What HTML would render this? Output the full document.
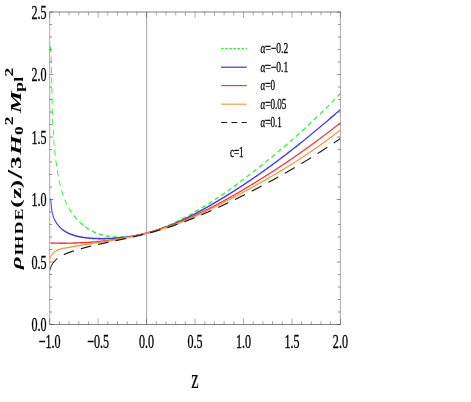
<!DOCTYPE html>
<html><head><meta charset="utf-8"><title>plot</title>
<style>html,body{margin:0;padding:0;background:#fff;}body{width:471px;height:402px;overflow:hidden;font-family:"Liberation Serif",serif;}svg{display:block;}</style></head>
<body>
<svg width="471" height="402" viewBox="0 0 471 402">
<rect width="471" height="402" fill="#fff"/>
<filter id="soft" x="0" y="0" width="100%" height="100%" filterUnits="userSpaceOnUse" color-interpolation-filters="sRGB"><feGaussianBlur stdDeviation="0.42"/></filter>
<filter id="soft2" x="0" y="0" width="100%" height="100%" filterUnits="userSpaceOnUse" color-interpolation-filters="sRGB"><feGaussianBlur stdDeviation="0.25"/></filter>
<line x1="146.60" y1="12.05" x2="146.60" y2="324.5" stroke="#8e8e8e" stroke-width="0.8"/>
<clipPath id="c"><rect x="49.7" y="12.05" width="290.70" height="312.45"/></clipPath>
<g filter="url(#soft2)"><g clip-path="url(#c)"><g transform="scale(0.62,1)" fill="none" stroke-linecap="butt" stroke-linejoin="round">
<path d="M81.42,46.25 L81.47,46.81 L81.52,47.36 L81.58,47.91 L81.63,48.46 L81.68,49.02 L81.73,49.57 L81.78,50.12 L81.83,50.68 L81.87,51.23 L81.92,51.78 L81.96,52.33 M82.29,56.62 L82.30,56.75 L82.34,57.30 L82.37,57.85 L82.41,58.40 L82.45,58.96 L82.48,59.51 L82.52,60.06 L82.55,60.61 L82.58,61.16 L82.62,61.71 L82.65,62.26 L82.68,62.71 M82.90,67.01 L82.91,67.22 L82.94,67.77 L82.97,68.32 L82.99,68.87 L83.02,69.42 L83.04,69.98 L83.07,70.53 L83.09,71.08 L83.11,71.63 L83.14,72.18 L83.16,72.73 L83.18,73.10 M83.34,77.40 L83.35,77.67 L83.37,78.22 L83.39,78.77 L83.41,79.32 L83.42,79.87 L83.44,80.42 L83.46,80.97 L83.48,81.52 L83.50,82.07 L83.51,82.62 L83.53,83.17 L83.54,83.50 M83.67,87.79 L83.68,88.11 L83.70,88.66 L83.72,89.21 L83.73,89.76 L83.75,90.30 L83.76,90.85 L83.78,91.40 L83.80,91.95 L83.81,92.50 L83.83,93.05 L83.85,93.59 L83.86,93.89 M83.99,98.19 L84.00,98.53 L84.02,99.08 L84.04,99.62 L84.05,100.17 L84.07,100.72 L84.09,101.27 L84.11,101.82 L84.13,102.36 L84.15,102.91 L84.17,103.46 L84.19,104.01 L84.20,104.29 M84.37,108.58 L84.38,108.94 L84.41,109.48 L84.43,110.03 L84.45,110.58 L84.48,111.13 L84.50,111.67 L84.53,112.22 L84.56,112.77 L84.58,113.32 L84.61,113.86 L84.64,114.41 L84.65,114.68 M84.89,118.97 L84.91,119.34 L84.94,119.88 L84.98,120.43 L85.01,120.98 L85.05,121.52 L85.08,122.07 L85.12,122.62 L85.16,123.16 L85.20,123.71 L85.24,124.26 L85.28,124.81 L85.30,125.06 M85.64,129.35 L85.67,129.73 L85.72,130.27 L85.77,130.82 L85.82,131.37 L85.87,131.92 L85.92,132.46 L85.97,133.01 L86.02,133.56 L86.08,134.10 L86.13,134.65 L86.19,135.20 L86.21,135.43 M86.69,139.71 L86.74,140.12 L86.81,140.66 L86.87,141.21 L86.94,141.76 L87.01,142.30 L87.08,142.85 L87.16,143.40 L87.23,143.95 L87.30,144.49 L87.38,145.04 L87.46,145.59 L87.48,145.76 M88.13,150.02 L88.20,150.51 L88.29,151.05 L88.38,151.60 L88.48,152.15 L88.57,152.70 L88.67,153.24 L88.76,153.79 L88.86,154.34 L88.96,154.88 L89.06,155.43 L89.16,155.98 L89.17,156.05 M90.01,160.28 L90.03,160.35 L90.14,160.90 L90.26,161.45 L90.38,161.99 L90.50,162.54 L90.62,163.09 L90.75,163.64 L90.87,164.18 L91.00,164.73 L91.12,165.28 L91.25,165.83 L91.36,166.25 M92.42,170.44 L92.50,170.75 L92.64,171.30 L92.79,171.85 L92.94,172.39 L93.10,172.94 L93.25,173.49 L93.41,174.04 L93.56,174.58 L93.72,175.13 L93.89,175.68 L94.05,176.22 L94.09,176.35 M95.42,180.48 L95.46,180.59 L95.65,181.13 L95.84,181.67 L96.03,182.22 L96.23,182.76 L96.43,183.30 L96.63,183.84 L96.84,184.38 L97.05,184.92 L97.26,185.46 L97.47,185.99 L97.58,186.25 M99.32,190.24 L99.33,190.26 L99.58,190.79 L99.84,191.32 L100.09,191.85 L100.36,192.37 L100.62,192.90 L100.89,193.42 L101.17,193.94 L101.45,194.46 L101.73,194.98 L102.02,195.50 L102.17,195.76 M104.45,199.52 L104.49,199.59 L104.82,200.10 L105.16,200.60 L105.50,201.10 L105.85,201.60 L106.20,202.10 L106.56,202.59 L106.92,203.09 L107.29,203.58 L107.67,204.07 L108.05,204.56 L108.11,204.63 M110.99,208.04 L111.31,208.39 L111.74,208.86 L112.18,209.32 L112.63,209.79 L113.08,210.25 L113.54,210.71 L114.01,211.17 L114.48,211.62 L114.96,212.08 L115.45,212.53 L115.48,212.55 M118.91,215.50 L119.05,215.61 L119.59,216.04 L120.14,216.47 L120.70,216.89 L121.26,217.31 L121.83,217.73 L122.41,218.14 L122.99,218.56 L123.59,218.96 L124.12,219.33 M127.99,221.78 L128.55,222.11 L129.19,222.49 L129.85,222.86 L130.51,223.24 L131.17,223.60 L131.84,223.96 L132.52,224.32 L133.20,224.68 L133.71,224.94 M137.89,226.93 L138.13,227.04 L138.86,227.36 L139.59,227.68 L140.32,227.99 L141.06,228.29 L141.80,228.60 L142.55,228.89 L143.31,229.19 L143.99,229.44 M148.39,230.99 L148.70,231.09 L149.49,231.34 L150.28,231.59 L151.08,231.83 L151.88,232.06 L152.68,232.29 L153.48,232.52 L154.29,232.73 L154.76,232.86 M159.32,233.94 L160.06,234.10 L160.89,234.27 L161.73,234.44 L162.57,234.60 L163.42,234.75 L164.27,234.90 L165.12,235.05 L165.87,235.17 M170.53,235.83 L171.13,235.90 L172.00,236.00 L172.87,236.10 L173.74,236.19 L174.62,236.28 L175.49,236.36 L176.37,236.44 L177.18,236.50 M181.88,236.81 L182.55,236.85 L183.44,236.89 L184.33,236.92 L185.22,236.96 L186.11,236.98 L187.00,237.01 L187.89,237.03 L188.57,237.04 M193.28,237.06 L194.15,237.06 L195.05,237.04 L195.94,237.03 L196.84,237.01 L197.73,236.99 L198.63,236.96 L199.52,236.94 L199.97,236.92 M204.68,236.71 L204.88,236.70 L205.77,236.65 L206.66,236.59 L207.55,236.54 L208.44,236.48 L209.32,236.42 L210.21,236.35 L211.09,236.28 L211.35,236.26 M216.05,235.86 L216.38,235.82 L217.25,235.74 L218.13,235.65 L219.00,235.56 L219.88,235.47 L220.75,235.37 L221.62,235.27 L222.49,235.17 L222.69,235.15 M227.37,234.56 L227.69,234.51 L228.56,234.39 L229.42,234.27 L230.28,234.15 L231.14,234.03 L232.00,233.90 L232.85,233.77 L233.71,233.64 L233.97,233.60 M238.61,232.83 L238.83,232.80 L239.68,232.65 L240.53,232.50 L241.37,232.35 L242.22,232.20 L243.07,232.04 L243.91,231.88 L244.75,231.72 L245.17,231.64 M249.78,230.72 L249.79,230.72 L250.63,230.55 L251.47,230.37 L252.30,230.19 L253.14,230.01 L253.97,229.83 L254.80,229.65 L255.63,229.46 L256.29,229.31 M260.86,228.25 L261.42,228.12 L262.24,227.92 L263.07,227.72 L263.89,227.51 L264.71,227.31 L265.53,227.10 L266.35,226.90 L267.16,226.69 L267.32,226.65 M271.85,225.46 L272.05,225.40 L272.86,225.18 L273.67,224.96 L274.48,224.74 L275.29,224.51 L276.10,224.29 L276.91,224.06 L277.71,223.83 L278.25,223.68 M282.74,222.37 L283.33,222.20 L284.13,221.96 L284.93,221.72 L285.73,221.48 L286.53,221.24 L287.32,220.99 L288.12,220.75 L288.91,220.50 L289.09,220.45 M293.55,219.04 L293.66,219.01 L294.45,218.75 L295.24,218.50 L296.02,218.24 L296.81,217.99 L297.60,217.73 L298.38,217.47 L299.16,217.21 L299.85,216.99 M304.27,215.50 L304.63,215.37 L305.41,215.11 L306.18,214.84 L306.96,214.58 L307.74,214.31 L308.51,214.04 L309.29,213.77 L310.06,213.50 L310.53,213.34 M314.92,211.78 L315.45,211.59 L316.22,211.31 L316.98,211.03 L317.75,210.76 L318.52,210.48 L319.28,210.20 L320.04,209.92 L320.81,209.64 L321.14,209.52 M325.50,207.90 L326.13,207.66 L326.89,207.38 L327.64,207.09 L328.40,206.80 L329.15,206.52 L329.91,206.23 L330.66,205.94 L331.42,205.65 L331.68,205.55 M336.02,203.86 L336.67,203.61 L337.42,203.31 L338.17,203.02 L338.92,202.72 L339.66,202.43 L340.41,202.13 L341.15,201.83 L341.90,201.53 L342.15,201.43 M346.46,199.69 L347.09,199.43 L347.83,199.13 L348.57,198.83 L349.31,198.52 L350.05,198.22 L350.78,197.91 L351.52,197.61 L352.26,197.30 L352.56,197.18 M356.85,195.38 L357.39,195.15 L358.12,194.84 L358.86,194.53 L359.59,194.22 L360.32,193.90 L361.04,193.59 L361.77,193.28 L362.50,192.97 L362.90,192.79 M367.16,190.94 L367.58,190.76 L368.31,190.44 L369.03,190.13 L369.75,189.81 L370.48,189.49 L371.20,189.17 L371.92,188.85 L372.64,188.53 L373.19,188.29 M377.42,186.39 L377.67,186.28 L378.39,185.96 L379.11,185.63 L379.82,185.31 L380.54,184.99 L381.25,184.66 L381.97,184.33 L382.68,184.01 L383.39,183.68 L383.41,183.68 M387.62,181.74 L387.67,181.72 L388.38,181.39 L389.09,181.06 L389.80,180.73 L390.50,180.40 L391.21,180.07 L391.92,179.74 L392.63,179.41 L393.34,179.08 L393.58,178.96 M397.77,176.99 L398.28,176.75 L398.98,176.41 L399.69,176.08 L400.39,175.74 L401.09,175.41 L401.79,175.07 L402.50,174.74 L403.20,174.40 L403.70,174.16 M407.87,172.15 L408.10,172.04 L408.80,171.70 L409.50,171.36 L410.20,171.02 L410.89,170.69 L411.59,170.35 L412.29,170.01 L412.98,169.67 L413.68,169.33 L413.77,169.28 M417.92,167.24 L418.55,166.94 L419.24,166.59 L419.93,166.25 L420.63,165.91 L421.32,165.57 L422.01,165.22 L422.70,164.88 L423.40,164.54 L423.80,164.33 M427.94,162.27 L428.23,162.12 L428.92,161.78 L429.61,161.43 L430.30,161.09 L430.99,160.74 L431.67,160.39 L432.36,160.05 L433.05,159.70 L433.74,159.35 L433.80,159.32 M437.92,157.23 L438.54,156.92 L439.22,156.57 L439.90,156.22 L440.59,155.87 L441.27,155.52 L441.95,155.17 L442.64,154.82 L443.32,154.47 L443.75,154.24 M447.85,152.12 L448.08,152.00 L448.76,151.65 L449.44,151.30 L450.12,150.95 L450.80,150.59 L451.48,150.24 L452.15,149.88 L452.83,149.53 L453.51,149.18 L453.66,149.10 M457.74,146.95 L458.23,146.69 L458.91,146.33 L459.58,145.97 L460.25,145.62 L460.93,145.26 L461.60,144.90 L462.27,144.54 L462.94,144.18 L463.52,143.87 M467.59,141.69 L467.63,141.67 L468.30,141.31 L468.97,140.95 L469.63,140.59 L470.30,140.23 L470.97,139.86 L471.63,139.50 L472.30,139.14 L472.97,138.78 L473.34,138.57 M477.38,136.36 L477.61,136.23 L478.27,135.87 L478.94,135.50 L479.60,135.14 L480.26,134.77 L480.92,134.41 L481.58,134.04 L482.24,133.67 L482.90,133.31 L483.10,133.19 M487.12,130.95 L487.50,130.73 L488.16,130.36 L488.81,129.99 L489.47,129.62 L490.12,129.25 L490.78,128.88 L491.43,128.51 L492.08,128.14 L492.74,127.77 L492.81,127.73 M496.80,125.45 L497.30,125.16 L497.94,124.79 L498.59,124.42 L499.24,124.04 L499.89,123.67 L500.54,123.29 L501.18,122.92 L501.83,122.54 L502.45,122.18 M506.42,119.86 L506.99,119.53 L507.63,119.15 L508.27,118.77 L508.91,118.39 L509.56,118.01 L510.20,117.63 L510.84,117.25 L511.48,116.87 L512.03,116.54 M515.98,114.18 L516.58,113.82 L517.21,113.43 L517.85,113.05 L518.48,112.67 L519.12,112.28 L519.75,111.90 L520.38,111.51 L521.01,111.13 L521.55,110.80 M525.46,108.40 L526.06,108.03 L526.69,107.65 L527.31,107.26 L527.94,106.87 L528.57,106.48 L529.19,106.09 L529.82,105.70 L530.44,105.31 L530.99,104.97 M534.87,102.53 L535.43,102.18 L536.05,101.78 L536.67,101.39 L537.29,101.00 L537.90,100.60 L538.52,100.21 L539.14,99.81 L539.76,99.42 L540.36,99.03 M544.21,96.55 L544.68,96.24 L545.29,95.84 L545.90,95.44 L546.51,95.04 L547.13,94.64 L547.74,94.24 L548.35,93.84 L548.96,93.44" stroke="#19ff19" stroke-width="1.4"/>
<path d="M81.62,198.60 L81.69,198.97 L81.76,199.34 L81.82,199.72 L81.88,200.09 L81.95,200.47 L82.01,200.85 L82.07,201.24 L82.12,201.62 L82.18,202.01 L82.24,202.40 L82.30,202.79 L82.35,203.18 L82.41,203.57 L82.47,203.96 L82.53,204.36 L82.59,204.75 L82.65,205.15 L82.71,205.55 L82.78,205.95 L82.85,206.35 L82.92,206.75 L82.99,207.15 L83.06,207.55 L83.14,207.95 L83.22,208.35 L83.31,208.75 L83.40,209.15 L83.49,209.55 L83.59,209.94 L83.69,210.34 L83.79,210.74 L83.90,211.14 L84.02,211.53 L84.13,211.93 L84.26,212.32 L84.39,212.72 L84.53,213.11 L84.67,213.50 L84.82,213.89 L84.97,214.27 L85.13,214.66 L85.30,215.04 L85.47,215.42 L85.65,215.80 L85.84,216.18 L86.04,216.55 L86.24,216.92 L86.45,217.29 L86.67,217.66 L86.90,218.02 L87.14,218.39 L87.38,218.74 L87.63,219.10 L87.89,219.45 L88.16,219.80 L88.44,220.15 L88.72,220.49 L89.01,220.84 L89.31,221.17 L89.62,221.51 L89.93,221.84 L90.25,222.17 L90.58,222.50 L90.91,222.82 L91.25,223.14 L91.60,223.45 L91.96,223.77 L92.32,224.08 L92.69,224.38 L93.07,224.69 L93.45,224.99 L93.84,225.29 L94.23,225.58 L94.64,225.87 L95.04,226.16 L95.46,226.44 L95.88,226.72 L96.31,227.00 L96.74,227.27 L97.18,227.54 L97.62,227.80 L98.07,228.07 L98.53,228.33 L98.99,228.58 L99.45,228.83 L99.93,229.08 L100.40,229.32 L100.89,229.56 L101.37,229.80 L101.87,230.03 L102.36,230.26 L102.87,230.49 L103.37,230.71 L103.89,230.93 L104.40,231.14 L104.93,231.35 L105.45,231.55 L105.98,231.76 L106.52,231.95 L107.06,232.15 L107.60,232.34 L108.15,232.52 L108.70,232.70 L109.26,232.88 L109.82,233.05 L110.38,233.23 L110.95,233.39 L111.52,233.55 L112.09,233.71 L112.67,233.87 L113.25,234.02 L113.84,234.17 L114.42,234.32 L115.02,234.46 L115.61,234.60 L116.21,234.73 L116.81,234.86 L117.41,234.99 L118.01,235.12 L118.62,235.24 L119.23,235.36 L119.84,235.48 L120.46,235.59 L121.07,235.70 L121.69,235.81 L122.31,235.92 L122.93,236.02 L123.56,236.12 L124.18,236.21 L124.81,236.31 L125.44,236.40 L126.07,236.49 L126.70,236.58 L127.34,236.66 L127.97,236.74 L128.61,236.82 L129.24,236.90 L129.88,236.97 L130.52,237.04 L131.16,237.11 L131.80,237.18 L132.44,237.25 L133.08,237.31 L133.72,237.37 L134.36,237.43 L135.01,237.49 L135.65,237.55 L136.29,237.60 L136.93,237.65 L137.57,237.70 L138.22,237.75 L138.86,237.80 L139.50,237.85 L140.14,237.89 L140.78,237.93 L141.42,237.97 L142.06,238.01 L142.69,238.05 L143.33,238.09 L143.97,238.12 L144.60,238.16 L145.24,238.19 L145.87,238.22 L146.50,238.25 L147.13,238.28 L147.76,238.31 L148.39,238.34 L149.02,238.36 L149.65,238.39 L150.28,238.41 L150.90,238.43 L151.53,238.46 L152.16,238.47 L152.78,238.49 L153.41,238.51 L154.03,238.53 L154.65,238.54 L155.28,238.56 L155.90,238.57 L156.52,238.58 L157.14,238.59 L157.76,238.60 L158.39,238.61 L159.01,238.62 L159.63,238.63 L160.25,238.64 L160.87,238.64 L161.49,238.64 L162.11,238.65 L162.73,238.65 L163.35,238.65 L163.97,238.65 L164.59,238.65 L165.21,238.65 L165.83,238.65 L166.45,238.65 L167.07,238.64 L167.69,238.64 L168.31,238.63 L168.93,238.63 L169.56,238.62 L170.18,238.61 L170.80,238.60 L171.42,238.59 L172.05,238.58 L172.67,238.57 L173.29,238.56 L173.92,238.55 L174.54,238.53 L175.17,238.52 L175.79,238.51 L176.42,238.49 L177.05,238.48 L177.67,238.46 L178.30,238.44 L178.93,238.42 L179.56,238.40 L180.19,238.39 L180.82,238.36 L181.45,238.34 L182.08,238.32 L182.71,238.30 L183.34,238.28 L183.97,238.25 L184.60,238.23 L185.23,238.20 L185.86,238.18 L186.50,238.15 L187.13,238.12 L187.76,238.09 L188.39,238.06 L189.03,238.03 L189.66,238.00 L190.29,237.97 L190.93,237.94 L191.56,237.90 L192.19,237.87 L192.83,237.83 L193.46,237.80 L194.10,237.76 L194.73,237.72 L195.36,237.69 L196.00,237.65 L196.63,237.61 L197.27,237.57 L197.90,237.52 L198.53,237.48 L199.17,237.44 L199.80,237.39 L200.44,237.35 L201.07,237.30 L201.70,237.26 L202.34,237.21 L202.97,237.16 L203.61,237.11 L204.24,237.06 L204.87,237.01 L205.50,236.96 L206.14,236.91 L206.77,236.85 L207.40,236.80 L208.03,236.74 L208.67,236.69 L209.30,236.63 L209.93,236.57 L210.56,236.51 L211.19,236.45 L211.82,236.39 L212.45,236.33 L213.08,236.27 L213.71,236.20 L214.34,236.14 L214.97,236.07 L215.60,236.01 L216.22,235.94 L216.85,235.87 L217.48,235.80 L218.10,235.73 L218.73,235.66 L219.36,235.59 L219.98,235.51 L220.60,235.44 L221.23,235.36 L221.85,235.29 L222.47,235.21 L223.10,235.13 L223.72,235.05 L224.34,234.97 L224.96,234.89 L225.58,234.81 L226.20,234.73 L226.82,234.65 L227.44,234.56 L228.06,234.48 L228.67,234.39 L229.29,234.30 L229.91,234.21 L230.52,234.12 L231.14,234.03 L231.76,233.94 L232.37,233.85 L232.98,233.76 L233.60,233.67 L234.21,233.57 L234.82,233.48 L235.44,233.38 L236.05,233.28 L236.66,233.19 L237.27,233.09 L237.88,232.99 L238.49,232.89 L239.10,232.79 L239.71,232.68 L240.32,232.58 L240.93,232.48 L241.53,232.37 L242.14,232.27 L242.75,232.16 L243.35,232.05 L243.96,231.94 L244.57,231.84 L245.17,231.73 L245.77,231.62 L246.38,231.50 L246.98,231.39 L247.59,231.28 L248.19,231.17 L248.79,231.05 L249.39,230.94 L249.99,230.82 L250.59,230.70 L251.19,230.58 L251.79,230.47 L252.39,230.35 L252.99,230.23 L253.59,230.11 L254.19,229.99 L254.79,229.86 L255.38,229.74 L255.98,229.62 L256.58,229.49 L257.17,229.37 L257.77,229.24 L258.36,229.11 L258.96,228.99 L259.55,228.86 L260.15,228.73 L260.74,228.60 L261.33,228.47 L261.93,228.34 L262.52,228.21 L263.11,228.07 L263.70,227.94 L264.29,227.81 L264.88,227.67 L265.47,227.54 L266.06,227.40 L266.65,227.26 L267.24,227.13 L267.83,226.99 L268.42,226.85 L269.00,226.71 L269.59,226.57 L270.18,226.43 L270.77,226.29 L271.35,226.14 L271.94,226.00 L272.52,225.86 L273.11,225.71 L273.69,225.57 L274.28,225.42 L274.86,225.28 L275.44,225.13 L276.03,224.98 L276.61,224.84 L277.19,224.69 L277.77,224.54 L278.35,224.39 L278.93,224.24 L279.52,224.09 L280.10,223.94 L280.68,223.78 L281.25,223.63 L281.83,223.48 L282.41,223.32 L282.99,223.17 L283.57,223.01 L284.15,222.86 L284.72,222.70 L285.30,222.55 L285.88,222.39 L286.45,222.23 L287.03,222.07 L287.61,221.91 L288.18,221.75 L288.76,221.59 L289.33,221.43 L289.90,221.27 L290.48,221.11 L291.05,220.95 L291.62,220.78 L292.20,220.62 L292.77,220.45 L293.34,220.29 L293.91,220.13 L294.48,219.96 L295.06,219.79 L295.63,219.63 L296.20,219.46 L296.77,219.29 L297.34,219.12 L297.91,218.96 L298.47,218.79 L299.04,218.62 L299.61,218.45 L300.18,218.28 L300.75,218.11 L301.31,217.93 L301.88,217.76 L302.45,217.59 L303.01,217.42 L303.58,217.24 L304.15,217.07 L304.71,216.89 L305.28,216.72 L305.84,216.54 L306.41,216.37 L306.97,216.19 L307.53,216.02 L308.10,215.84 L308.66,215.66 L309.22,215.48 L309.79,215.31 L310.35,215.13 L310.91,214.95 L311.47,214.77 L312.04,214.59 L312.60,214.41 L313.16,214.23 L313.72,214.05 L314.28,213.87 L314.84,213.68 L315.40,213.50 L315.96,213.32 L316.52,213.14 L317.08,212.95 L317.63,212.77 L318.19,212.59 L318.75,212.40 L319.31,212.22 L319.87,212.03 L320.42,211.85 L320.98,211.66 L321.54,211.47 L322.09,211.29 L322.65,211.10 L323.21,210.91 L323.76,210.73 L324.32,210.54 L324.87,210.35 L325.43,210.16 L325.98,209.97 L326.53,209.78 L327.09,209.59 L327.64,209.40 L328.20,209.21 L328.75,209.02 L329.30,208.83 L329.86,208.64 L330.41,208.45 L330.96,208.26 L331.51,208.07 L332.06,207.88 L332.62,207.68 L333.17,207.49 L333.72,207.30 L334.27,207.11 L334.82,206.91 L335.37,206.72 L335.92,206.53 L336.47,206.33 L337.02,206.14 L337.57,205.94 L338.12,205.75 L338.67,205.55 L339.21,205.36 L339.76,205.16 L340.31,204.97 L340.86,204.77 L341.41,204.57 L341.95,204.38 L342.50,204.18 L343.05,203.98 L343.60,203.79 L344.14,203.59 L344.69,203.39 L345.24,203.19 L345.78,203.00 L346.33,202.80 L346.87,202.60 L347.42,202.40 L347.96,202.20 L348.51,202.00 L349.05,201.80 L349.60,201.60 L350.14,201.40 L350.69,201.20 L351.23,201.00 L351.77,200.80 L352.32,200.60 L352.86,200.40 L353.40,200.20 L353.94,200.00 L354.49,199.80 L355.03,199.60 L355.57,199.39 L356.11,199.19 L356.65,198.99 L357.20,198.79 L357.74,198.58 L358.28,198.38 L358.82,198.18 L359.36,197.97 L359.90,197.77 L360.44,197.57 L360.98,197.36 L361.52,197.16 L362.06,196.95 L362.60,196.75 L363.14,196.54 L363.67,196.34 L364.21,196.13 L364.75,195.93 L365.29,195.72 L365.83,195.51 L366.36,195.31 L366.90,195.10 L367.44,194.90 L367.98,194.69 L368.51,194.48 L369.05,194.27 L369.59,194.07 L370.12,193.86 L370.66,193.65 L371.19,193.44 L371.73,193.23 L372.26,193.03 L372.80,192.82 L373.33,192.61 L373.87,192.40 L374.40,192.19 L374.94,191.98 L375.47,191.77 L376.01,191.56 L376.54,191.35 L377.07,191.14 L377.61,190.93 L378.14,190.72 L378.67,190.51 L379.20,190.30 L379.74,190.08 L380.27,189.87 L380.80,189.66 L381.33,189.45 L381.86,189.24 L382.39,189.02 L382.92,188.81 L383.46,188.60 L383.99,188.39 L384.52,188.17 L385.05,187.96 L385.58,187.75 L386.11,187.53 L386.64,187.32 L387.17,187.10 L387.69,186.89 L388.22,186.67 L388.75,186.46 L389.28,186.24 L389.81,186.03 L390.34,185.81 L390.87,185.60 L391.39,185.38 L391.92,185.17 L392.45,184.95 L392.98,184.73 L393.50,184.52 L394.03,184.30 L394.56,184.08 L395.08,183.87 L395.61,183.65 L396.13,183.43 L396.66,183.21 L397.18,183.00 L397.71,182.78 L398.23,182.56 L398.76,182.34 L399.28,182.12 L399.81,181.91 L400.33,181.69 L400.86,181.47 L401.38,181.25 L401.90,181.03 L402.43,180.81 L402.95,180.59 L403.47,180.37 L404.00,180.15 L404.52,179.93 L405.04,179.71 L405.56,179.49 L406.09,179.27 L406.61,179.04 L407.13,178.82 L407.65,178.60 L408.17,178.38 L408.69,178.16 L409.22,177.94 L409.74,177.71 L410.26,177.49 L410.78,177.27 L411.30,177.05 L411.82,176.82 L412.34,176.60 L412.86,176.38 L413.38,176.15 L413.89,175.93 L414.41,175.70 L414.93,175.48 L415.45,175.26 L415.97,175.03 L416.49,174.81 L417.00,174.58 L417.52,174.36 L418.04,174.13 L418.56,173.91 L419.07,173.68 L419.59,173.46 L420.11,173.23 L420.63,173.01 L421.14,172.78 L421.66,172.55 L422.17,172.33 L422.69,172.10 L423.21,171.87 L423.72,171.65 L424.24,171.42 L424.75,171.19 L425.27,170.96 L425.78,170.74 L426.30,170.51 L426.81,170.28 L427.32,170.05 L427.84,169.82 L428.35,169.60 L428.86,169.37 L429.38,169.14 L429.89,168.91 L430.40,168.68 L430.92,168.45 L431.43,168.22 L431.94,167.99 L432.45,167.76 L432.97,167.53 L433.48,167.30 L433.99,167.07 L434.50,166.84 L435.01,166.61 L435.52,166.38 L436.03,166.15 L436.55,165.92 L437.06,165.69 L437.57,165.46 L438.08,165.22 L438.59,164.99 L439.10,164.76 L439.61,164.53 L440.12,164.30 L440.62,164.06 L441.13,163.83 L441.64,163.60 L442.15,163.37 L442.66,163.13 L443.17,162.90 L443.68,162.67 L444.18,162.43 L444.69,162.20 L445.20,161.97 L445.71,161.73 L446.21,161.50 L446.72,161.26 L447.23,161.03 L447.74,160.80 L448.24,160.56 L448.75,160.33 L449.25,160.09 L449.76,159.86 L450.27,159.62 L450.77,159.39 L451.28,159.15 L451.78,158.91 L452.29,158.68 L452.79,158.44 L453.30,158.21 L453.80,157.97 L454.31,157.73 L454.81,157.50 L455.31,157.26 L455.82,157.02 L456.32,156.79 L456.83,156.55 L457.33,156.31 L457.83,156.07 L458.34,155.84 L458.84,155.60 L459.34,155.36 L459.84,155.12 L460.35,154.88 L460.85,154.65 L461.35,154.41 L461.85,154.17 L462.35,153.93 L462.85,153.69 L463.36,153.45 L463.86,153.21 L464.36,152.97 L464.86,152.74 L465.36,152.50 L465.86,152.26 L466.36,152.02 L466.86,151.78 L467.36,151.54 L467.86,151.30 L468.36,151.06 L468.86,150.82 L469.36,150.57 L469.86,150.33 L470.36,150.09 L470.85,149.85 L471.35,149.61 L471.85,149.37 L472.35,149.13 L472.85,148.89 L473.35,148.64 L473.84,148.40 L474.34,148.16 L474.84,147.92 L475.33,147.68 L475.83,147.43 L476.33,147.19 L476.83,146.95 L477.32,146.71 L477.82,146.46 L478.31,146.22 L478.81,145.98 L479.31,145.73 L479.80,145.49 L480.30,145.25 L480.79,145.00 L481.29,144.76 L481.78,144.52 L482.28,144.27 L482.77,144.03 L483.27,143.78 L483.76,143.54 L484.26,143.29 L484.75,143.05 L485.24,142.80 L485.74,142.56 L486.23,142.32 L486.72,142.07 L487.22,141.82 L487.71,141.58 L488.20,141.33 L488.70,141.09 L489.19,140.84 L489.68,140.60 L490.17,140.35 L490.67,140.10 L491.16,139.86 L491.65,139.61 L492.14,139.37 L492.63,139.12 L493.12,138.87 L493.61,138.63 L494.11,138.38 L494.60,138.13 L495.09,137.88 L495.58,137.64 L496.07,137.39 L496.56,137.14 L497.05,136.89 L497.54,136.65 L498.03,136.40 L498.52,136.15 L499.01,135.90 L499.50,135.66 L499.98,135.41 L500.47,135.16 L500.96,134.91 L501.45,134.66 L501.94,134.41 L502.43,134.16 L502.92,133.91 L503.40,133.67 L503.89,133.42 L504.38,133.17 L504.87,132.92 L505.35,132.67 L505.84,132.42 L506.33,132.17 L506.82,131.92 L507.30,131.67 L507.79,131.42 L508.28,131.17 L508.76,130.92 L509.25,130.67 L509.73,130.42 L510.22,130.17 L510.71,129.92 L511.19,129.67 L511.68,129.42 L512.16,129.16 L512.65,128.91 L513.13,128.66 L513.62,128.41 L514.10,128.16 L514.59,127.91 L515.07,127.66 L515.55,127.41 L516.04,127.15 L516.52,126.90 L517.01,126.65 L517.49,126.40 L517.97,126.15 L518.46,125.89 L518.94,125.64 L519.42,125.39 L519.91,125.14 L520.39,124.88 L520.87,124.63 L521.35,124.38 L521.84,124.13 L522.32,123.87 L522.80,123.62 L523.28,123.37 L523.76,123.11 L524.24,122.86 L524.73,122.61 L525.21,122.35 L525.69,122.10 L526.17,121.84 L526.65,121.59 L527.13,121.34 L527.61,121.08 L528.09,120.83 L528.57,120.57 L529.05,120.32 L529.53,120.07 L530.01,119.81 L530.49,119.56 L530.97,119.30 L531.45,119.05 L531.93,118.79 L532.41,118.54 L532.89,118.28 L533.37,118.03 L533.85,117.77 L534.32,117.52 L534.80,117.26 L535.28,117.01 L535.76,116.75 L536.24,116.50 L536.72,116.24 L537.19,115.98 L537.67,115.73 L538.15,115.47 L538.63,115.22 L539.10,114.96 L539.58,114.70 L540.06,114.45 L540.53,114.19 L541.01,113.94 L541.49,113.68 L541.96,113.42 L542.44,113.17 L542.92,112.91 L543.39,112.65 L543.87,112.40 L544.34,112.14 L544.82,111.88 L545.29,111.62 L545.77,111.37 L546.24,111.11 L546.72,110.85 L547.19,110.60 L547.67,110.34 L548.14,110.08 L548.62,109.82 L549.09,109.57" stroke="#3a3aff" stroke-width="1.55"/>
<path d="M81.38,242.98 L81.95,242.99 L82.53,243.00 L83.11,243.01 L83.69,243.03 L84.26,243.04 L84.84,243.05 L85.42,243.05 L85.99,243.06 L86.57,243.07 L87.15,243.08 L87.73,243.09 L88.31,243.10 L88.88,243.11 L89.46,243.11 L90.04,243.12 L90.62,243.13 L91.19,243.13 L91.77,243.14 L92.35,243.15 L92.93,243.15 L93.50,243.16 L94.08,243.16 L94.66,243.16 L95.24,243.17 L95.82,243.17 L96.39,243.18 L96.97,243.18 L97.55,243.18 L98.13,243.18 L98.71,243.19 L99.28,243.19 L99.86,243.19 L100.44,243.19 L101.02,243.19 L101.60,243.19 L102.17,243.19 L102.75,243.19 L103.33,243.19 L103.91,243.19 L104.49,243.19 L105.06,243.19 L105.64,243.19 L106.22,243.18 L106.80,243.18 L107.38,243.18 L107.95,243.17 L108.53,243.17 L109.11,243.17 L109.69,243.16 L110.27,243.16 L110.84,243.15 L111.42,243.15 L112.00,243.14 L112.58,243.14 L113.15,243.13 L113.73,243.12 L114.31,243.12 L114.89,243.11 L115.47,243.10 L116.04,243.09 L116.62,243.08 L117.20,243.08 L117.78,243.07 L118.36,243.06 L118.93,243.05 L119.51,243.04 L120.09,243.03 L120.67,243.01 L121.24,243.00 L121.82,242.99 L122.40,242.98 L122.98,242.97 L123.55,242.96 L124.13,242.94 L124.71,242.93 L125.29,242.92 L125.86,242.90 L126.44,242.89 L127.02,242.87 L127.60,242.86 L128.17,242.84 L128.75,242.83 L129.33,242.81 L129.90,242.79 L130.48,242.78 L131.06,242.76 L131.64,242.74 L132.21,242.72 L132.79,242.71 L133.37,242.69 L133.94,242.67 L134.52,242.65 L135.10,242.63 L135.67,242.61 L136.25,242.59 L136.83,242.57 L137.40,242.55 L137.98,242.52 L138.56,242.50 L139.13,242.48 L139.71,242.46 L140.29,242.43 L140.86,242.41 L141.44,242.39 L142.02,242.36 L142.59,242.34 L143.17,242.31 L143.74,242.29 L144.32,242.26 L144.90,242.24 L145.47,242.21 L146.05,242.18 L146.62,242.16 L147.20,242.13 L147.78,242.10 L148.35,242.07 L148.93,242.05 L149.50,242.02 L150.08,241.99 L150.65,241.96 L151.23,241.93 L151.80,241.90 L152.38,241.87 L152.95,241.84 L153.53,241.80 L154.10,241.77 L154.68,241.74 L155.25,241.71 L155.83,241.68 L156.40,241.64 L156.98,241.61 L157.55,241.57 L158.13,241.54 L158.70,241.51 L159.27,241.47 L159.85,241.43 L160.42,241.40 L161.00,241.36 L161.57,241.33 L162.14,241.29 L162.72,241.25 L163.29,241.21 L163.87,241.17 L164.44,241.14 L165.01,241.10 L165.59,241.06 L166.16,241.02 L166.73,240.98 L167.30,240.94 L167.88,240.90 L168.45,240.86 L169.02,240.81 L169.60,240.77 L170.17,240.73 L170.74,240.69 L171.31,240.64 L171.89,240.60 L172.46,240.56 L173.03,240.51 L173.60,240.47 L174.17,240.42 L174.75,240.38 L175.32,240.33 L175.89,240.28 L176.46,240.24 L177.03,240.19 L177.60,240.14 L178.17,240.09 L178.75,240.05 L179.32,240.00 L179.89,239.95 L180.46,239.90 L181.03,239.85 L181.60,239.80 L182.17,239.75 L182.74,239.70 L183.31,239.65 L183.88,239.59 L184.45,239.54 L185.02,239.49 L185.59,239.44 L186.16,239.38 L186.73,239.33 L187.30,239.28 L187.87,239.22 L188.44,239.17 L189.00,239.11 L189.57,239.06 L190.14,239.00 L190.71,238.94 L191.28,238.89 L191.85,238.83 L192.42,238.77 L192.98,238.71 L193.55,238.65 L194.12,238.59 L194.69,238.54 L195.25,238.48 L195.82,238.42 L196.39,238.36 L196.96,238.29 L197.52,238.23 L198.09,238.17 L198.66,238.11 L199.22,238.05 L199.79,237.98 L200.36,237.92 L200.92,237.86 L201.49,237.79 L202.05,237.73 L202.62,237.66 L203.19,237.60 L203.75,237.53 L204.32,237.46 L204.88,237.40 L205.45,237.33 L206.01,237.26 L206.58,237.20 L207.14,237.13 L207.70,237.06 L208.27,236.99 L208.83,236.92 L209.40,236.85 L209.96,236.78 L210.52,236.71 L211.09,236.64 L211.65,236.57 L212.21,236.49 L212.78,236.42 L213.34,236.35 L213.90,236.28 L214.47,236.20 L215.03,236.13 L215.59,236.05 L216.15,235.98 L216.71,235.90 L217.28,235.83 L217.84,235.75 L218.40,235.67 L218.96,235.60 L219.52,235.52 L220.08,235.44 L220.64,235.36 L221.20,235.29 L221.76,235.21 L222.32,235.13 L222.88,235.05 L223.44,234.97 L224.00,234.89 L224.56,234.80 L225.12,234.72 L225.68,234.64 L226.24,234.56 L226.80,234.47 L227.36,234.39 L227.92,234.31 L228.47,234.22 L229.03,234.14 L229.59,234.05 L230.15,233.97 L230.70,233.88 L231.26,233.80 L231.82,233.71 L232.38,233.62 L232.93,233.53 L233.49,233.45 L234.05,233.36 L234.60,233.27 L235.16,233.18 L235.71,233.09 L236.27,233.00 L236.82,232.91 L237.38,232.82 L237.93,232.73 L238.49,232.63 L239.04,232.54 L239.60,232.45 L240.15,232.36 L240.71,232.26 L241.26,232.17 L241.81,232.07 L242.37,231.98 L242.92,231.88 L243.47,231.79 L244.03,231.69 L244.58,231.59 L245.13,231.50 L245.68,231.40 L246.23,231.30 L246.79,231.20 L247.34,231.10 L247.89,231.00 L248.44,230.90 L248.99,230.80 L249.54,230.70 L250.09,230.60 L250.64,230.50 L251.19,230.40 L251.74,230.29 L252.29,230.19 L252.84,230.09 L253.39,229.98 L253.94,229.88 L254.49,229.78 L255.04,229.67 L255.58,229.56 L256.13,229.46 L256.68,229.35 L257.23,229.24 L257.77,229.14 L258.32,229.03 L258.87,228.92 L259.42,228.81 L259.96,228.70 L260.51,228.59 L261.05,228.48 L261.60,228.37 L262.14,228.26 L262.69,228.15 L263.24,228.04 L263.78,227.93 L264.32,227.81 L264.87,227.70 L265.41,227.59 L265.96,227.47 L266.50,227.36 L267.04,227.24 L267.59,227.13 L268.13,227.01 L268.67,226.89 L269.21,226.78 L269.76,226.66 L270.30,226.54 L270.84,226.42 L271.38,226.30 L271.92,226.19 L272.46,226.07 L273.00,225.95 L273.54,225.83 L274.08,225.70 L274.62,225.58 L275.16,225.46 L275.70,225.34 L276.24,225.22 L276.78,225.09 L277.32,224.97 L277.86,224.85 L278.40,224.72 L278.94,224.60 L279.47,224.47 L280.01,224.35 L280.55,224.22 L281.09,224.09 L281.62,223.97 L282.16,223.84 L282.70,223.71 L283.23,223.58 L283.77,223.46 L284.31,223.33 L284.84,223.20 L285.38,223.07 L285.91,222.94 L286.45,222.81 L286.98,222.68 L287.52,222.55 L288.05,222.41 L288.58,222.28 L289.12,222.15 L289.65,222.02 L290.18,221.88 L290.72,221.75 L291.25,221.62 L291.78,221.48 L292.32,221.35 L292.85,221.21 L293.38,221.08 L293.91,220.94 L294.44,220.80 L294.98,220.67 L295.51,220.53 L296.04,220.39 L296.57,220.26 L297.10,220.12 L297.63,219.98 L298.16,219.84 L298.69,219.70 L299.22,219.56 L299.75,219.42 L300.28,219.28 L300.81,219.14 L301.34,219.00 L301.86,218.86 L302.39,218.72 L302.92,218.58 L303.45,218.43 L303.98,218.29 L304.50,218.15 L305.03,218.00 L305.56,217.86 L306.09,217.72 L306.61,217.57 L307.14,217.43 L307.67,217.28 L308.19,217.14 L308.72,216.99 L309.24,216.84 L309.77,216.70 L310.29,216.55 L310.82,216.40 L311.34,216.26 L311.87,216.11 L312.39,215.96 L312.92,215.81 L313.44,215.66 L313.97,215.51 L314.49,215.36 L315.01,215.22 L315.54,215.07 L316.06,214.91 L316.58,214.76 L317.10,214.61 L317.63,214.46 L318.15,214.31 L318.67,214.16 L319.19,214.01 L319.71,213.85 L320.24,213.70 L320.76,213.55 L321.28,213.39 L321.80,213.24 L322.32,213.09 L322.84,212.93 L323.36,212.78 L323.88,212.62 L324.40,212.47 L324.92,212.31 L325.44,212.16 L325.96,212.00 L326.48,211.85 L327.00,211.69 L327.52,211.53 L328.03,211.37 L328.55,211.22 L329.07,211.06 L329.59,210.90 L330.11,210.74 L330.62,210.59 L331.14,210.43 L331.66,210.27 L332.18,210.11 L332.69,209.95 L333.21,209.79 L333.73,209.63 L334.24,209.47 L334.76,209.31 L335.27,209.15 L335.79,208.99 L336.31,208.82 L336.82,208.66 L337.34,208.50 L337.85,208.34 L338.37,208.18 L338.88,208.01 L339.40,207.85 L339.91,207.69 L340.42,207.52 L340.94,207.36 L341.45,207.20 L341.97,207.03 L342.48,206.87 L342.99,206.70 L343.51,206.54 L344.02,206.37 L344.53,206.21 L345.04,206.04 L345.56,205.88 L346.07,205.71 L346.58,205.55 L347.09,205.38 L347.60,205.21 L348.12,205.05 L348.63,204.88 L349.14,204.71 L349.65,204.55 L350.16,204.38 L350.67,204.21 L351.18,204.04 L351.69,203.87 L352.20,203.71 L352.71,203.54 L353.22,203.37 L353.73,203.20 L354.24,203.03 L354.75,202.86 L355.26,202.69 L355.77,202.52 L356.28,202.35 L356.78,202.18 L357.29,202.01 L357.80,201.84 L358.31,201.67 L358.82,201.50 L359.32,201.33 L359.83,201.15 L360.34,200.98 L360.85,200.81 L361.35,200.64 L361.86,200.47 L362.37,200.29 L362.87,200.12 L363.38,199.95 L363.89,199.78 L364.39,199.60 L364.90,199.43 L365.41,199.26 L365.91,199.08 L366.42,198.91 L366.92,198.74 L367.43,198.56 L367.93,198.39 L368.44,198.21 L368.94,198.04 L369.45,197.86 L369.95,197.69 L370.45,197.51 L370.96,197.34 L371.46,197.16 L371.97,196.99 L372.47,196.81 L372.97,196.64 L373.48,196.46 L373.98,196.29 L374.48,196.11 L374.99,195.93 L375.49,195.76 L375.99,195.58 L376.49,195.40 L377.00,195.22 L377.50,195.05 L378.00,194.87 L378.50,194.69 L379.00,194.51 L379.50,194.34 L380.01,194.16 L380.51,193.98 L381.01,193.80 L381.51,193.62 L382.01,193.44 L382.51,193.27 L383.01,193.09 L383.51,192.91 L384.01,192.73 L384.51,192.55 L385.01,192.37 L385.51,192.19 L386.01,192.01 L386.51,191.83 L387.01,191.65 L387.51,191.47 L388.00,191.29 L388.50,191.11 L389.00,190.93 L389.50,190.75 L390.00,190.56 L390.50,190.38 L390.99,190.20 L391.49,190.02 L391.99,189.84 L392.49,189.66 L392.98,189.48 L393.48,189.29 L393.98,189.11 L394.48,188.93 L394.97,188.75 L395.47,188.56 L395.96,188.38 L396.46,188.20 L396.96,188.01 L397.45,187.83 L397.95,187.65 L398.44,187.46 L398.94,187.28 L399.44,187.10 L399.93,186.91 L400.43,186.73 L400.92,186.54 L401.41,186.36 L401.91,186.18 L402.40,185.99 L402.90,185.81 L403.39,185.62 L403.89,185.44 L404.38,185.25 L404.87,185.07 L405.37,184.88 L405.86,184.69 L406.35,184.51 L406.85,184.32 L407.34,184.14 L407.83,183.95 L408.33,183.76 L408.82,183.58 L409.31,183.39 L409.80,183.21 L410.30,183.02 L410.79,182.83 L411.28,182.64 L411.77,182.46 L412.26,182.27 L412.75,182.08 L413.24,181.90 L413.74,181.71 L414.23,181.52 L414.72,181.33 L415.21,181.14 L415.70,180.96 L416.19,180.77 L416.68,180.58 L417.17,180.39 L417.66,180.20 L418.15,180.01 L418.64,179.83 L419.13,179.64 L419.62,179.45 L420.11,179.26 L420.60,179.07 L421.08,178.88 L421.57,178.69 L422.06,178.50 L422.55,178.31 L423.04,178.12 L423.53,177.93 L424.02,177.74 L424.50,177.55 L424.99,177.36 L425.48,177.17 L425.97,176.98 L426.45,176.79 L426.94,176.60 L427.43,176.41 L427.91,176.22 L428.40,176.02 L428.89,175.83 L429.37,175.64 L429.86,175.45 L430.35,175.26 L430.83,175.07 L431.32,174.87 L431.81,174.68 L432.29,174.49 L432.78,174.30 L433.26,174.11 L433.75,173.91 L434.23,173.72 L434.72,173.53 L435.20,173.34 L435.69,173.14 L436.17,172.95 L436.66,172.76 L437.14,172.56 L437.62,172.37 L438.11,172.18 L438.59,171.98 L439.08,171.79 L439.56,171.59 L440.04,171.40 L440.53,171.21 L441.01,171.01 L441.49,170.82 L441.98,170.62 L442.46,170.43 L442.94,170.23 L443.42,170.04 L443.91,169.84 L444.39,169.65 L444.87,169.45 L445.35,169.26 L445.83,169.06 L446.32,168.87 L446.80,168.67 L447.28,168.48 L447.76,168.28 L448.24,168.08 L448.72,167.89 L449.20,167.69 L449.68,167.50 L450.16,167.30 L450.64,167.10 L451.12,166.91 L451.60,166.71 L452.08,166.51 L452.56,166.31 L453.04,166.12 L453.52,165.92 L454.00,165.72 L454.48,165.52 L454.96,165.33 L455.44,165.13 L455.92,164.93 L456.40,164.73 L456.88,164.54 L457.35,164.34 L457.83,164.14 L458.31,163.94 L458.79,163.74 L459.27,163.54 L459.74,163.34 L460.22,163.14 L460.70,162.95 L461.18,162.75 L461.65,162.55 L462.13,162.35 L462.61,162.15 L463.09,161.95 L463.56,161.75 L464.04,161.55 L464.51,161.35 L464.99,161.15 L465.47,160.95 L465.94,160.75 L466.42,160.55 L466.89,160.35 L467.37,160.14 L467.85,159.94 L468.32,159.74 L468.80,159.54 L469.27,159.34 L469.75,159.14 L470.22,158.94 L470.70,158.73 L471.17,158.53 L471.64,158.33 L472.12,158.13 L472.59,157.93 L473.07,157.72 L473.54,157.52 L474.01,157.32 L474.49,157.12 L474.96,156.91 L475.43,156.71 L475.91,156.51 L476.38,156.30 L476.85,156.10 L477.33,155.90 L477.80,155.69 L478.27,155.49 L478.74,155.29 L479.22,155.08 L479.69,154.88 L480.16,154.68 L480.63,154.47 L481.10,154.27 L481.57,154.06 L482.05,153.86 L482.52,153.65 L482.99,153.45 L483.46,153.24 L483.93,153.04 L484.40,152.83 L484.87,152.63 L485.34,152.42 L485.81,152.22 L486.28,152.01 L486.75,151.80 L487.22,151.60 L487.69,151.39 L488.16,151.19 L488.63,150.98 L489.10,150.77 L489.57,150.57 L490.04,150.36 L490.51,150.15 L490.98,149.95 L491.44,149.74 L491.91,149.53 L492.38,149.33 L492.85,149.12 L493.32,148.91 L493.79,148.70 L494.25,148.49 L494.72,148.29 L495.19,148.08 L495.66,147.87 L496.12,147.66 L496.59,147.45 L497.06,147.25 L497.53,147.04 L497.99,146.83 L498.46,146.62 L498.93,146.41 L499.39,146.20 L499.86,145.99 L500.32,145.78 L500.79,145.57 L501.26,145.36 L501.72,145.15 L502.19,144.94 L502.65,144.73 L503.12,144.52 L503.58,144.31 L504.05,144.10 L504.51,143.89 L504.98,143.68 L505.44,143.47 L505.91,143.26 L506.37,143.05 L506.84,142.84 L507.30,142.63 L507.77,142.41 L508.23,142.20 L508.69,141.99 L509.16,141.78 L509.62,141.57 L510.08,141.36 L510.55,141.14 L511.01,140.93 L511.47,140.72 L511.94,140.51 L512.40,140.29 L512.86,140.08 L513.32,139.87 L513.79,139.66 L514.25,139.44 L514.71,139.23 L515.17,139.02 L515.63,138.80 L516.10,138.59 L516.56,138.37 L517.02,138.16 L517.48,137.95 L517.94,137.73 L518.40,137.52 L518.86,137.30 L519.32,137.09 L519.78,136.87 L520.25,136.66 L520.71,136.45 L521.17,136.23 L521.63,136.02 L522.09,135.80 L522.55,135.58 L523.01,135.37 L523.47,135.15 L523.92,134.94 L524.38,134.72 L524.84,134.51 L525.30,134.29 L525.76,134.07 L526.22,133.86 L526.68,133.64 L527.14,133.42 L527.60,133.21 L528.05,132.99 L528.51,132.77 L528.97,132.56 L529.43,132.34 L529.89,132.12 L530.34,131.90 L530.80,131.69 L531.26,131.47 L531.72,131.25 L532.17,131.03 L532.63,130.81 L533.09,130.60 L533.54,130.38 L534.00,130.16 L534.46,129.94 L534.91,129.72 L535.37,129.50 L535.83,129.28 L536.28,129.06 L536.74,128.85 L537.19,128.63 L537.65,128.41 L538.10,128.19 L538.56,127.97 L539.01,127.75 L539.47,127.53 L539.93,127.31 L540.38,127.09 L540.83,126.87 L541.29,126.65 L541.74,126.43 L542.20,126.20 L542.65,125.98 L543.11,125.76 L543.56,125.54 L544.01,125.32 L544.47,125.10 L544.92,124.88 L545.37,124.66 L545.83,124.43 L546.28,124.21 L546.73,123.99 L547.19,123.77 L547.64,123.55 L548.09,123.32 L548.55,123.10 L549.00,122.88" stroke="#ff3030" stroke-width="1.4"/>
<path d="M80.85,258.68 L81.04,258.27 L81.24,257.86 L81.45,257.47 L81.67,257.09 L81.91,256.72 L82.16,256.36 L82.43,256.01 L82.70,255.68 L82.99,255.35 L83.29,255.04 L83.60,254.73 L83.92,254.43 L84.26,254.15 L84.60,253.87 L84.96,253.60 L85.32,253.34 L85.70,253.09 L86.08,252.85 L86.48,252.62 L86.88,252.39 L87.29,252.18 L87.72,251.97 L88.15,251.77 L88.59,251.57 L89.03,251.38 L89.49,251.20 L89.95,251.03 L90.42,250.86 L90.90,250.70 L91.38,250.55 L91.87,250.40 L92.37,250.26 L92.87,250.12 L93.38,249.99 L93.90,249.86 L94.42,249.74 L94.94,249.62 L95.47,249.51 L96.01,249.40 L96.55,249.29 L97.09,249.19 L97.64,249.09 L98.19,249.00 L98.74,248.91 L99.30,248.82 L99.86,248.74 L100.42,248.65 L100.99,248.57 L101.56,248.50 L102.13,248.42 L102.70,248.34 L103.27,248.27 L103.84,248.20 L104.42,248.13 L105.00,248.06 L105.57,247.99 L106.15,247.92 L106.72,247.86 L107.30,247.79 L107.88,247.72 L108.45,247.66 L109.03,247.59 L109.61,247.52 L110.18,247.46 L110.76,247.39 L111.33,247.33 L111.91,247.26 L112.49,247.20 L113.06,247.13 L113.64,247.07 L114.21,247.00 L114.79,246.94 L115.37,246.87 L115.94,246.81 L116.52,246.75 L117.09,246.68 L117.67,246.62 L118.25,246.56 L118.82,246.50 L119.40,246.43 L119.97,246.37 L120.55,246.31 L121.12,246.25 L121.70,246.19 L122.27,246.13 L122.85,246.07 L123.43,246.01 L124.00,245.95 L124.58,245.89 L125.15,245.83 L125.73,245.77 L126.30,245.71 L126.88,245.65 L127.45,245.59 L128.03,245.53 L128.60,245.47 L129.18,245.41 L129.75,245.35 L130.33,245.29 L130.90,245.23 L131.48,245.18 L132.05,245.12 L132.63,245.06 L133.20,245.00 L133.77,244.94 L134.35,244.89 L134.92,244.83 L135.50,244.77 L136.07,244.71 L136.65,244.66 L137.22,244.60 L137.80,244.54 L138.37,244.49 L138.95,244.43 L139.52,244.37 L140.09,244.32 L140.67,244.26 L141.24,244.20 L141.82,244.15 L142.39,244.09 L142.96,244.04 L143.54,243.98 L144.11,243.92 L144.69,243.87 L145.26,243.81 L145.83,243.76 L146.41,243.70 L146.98,243.65 L147.55,243.59 L148.13,243.54 L148.70,243.48 L149.28,243.42 L149.85,243.37 L150.42,243.31 L151.00,243.26 L151.57,243.20 L152.14,243.15 L152.72,243.09 L153.29,243.04 L153.86,242.98 L154.44,242.93 L155.01,242.87 L155.58,242.82 L156.16,242.76 L156.73,242.71 L157.30,242.65 L157.87,242.60 L158.45,242.54 L159.02,242.49 L159.59,242.43 L160.17,242.37 L160.74,242.32 L161.31,242.26 L161.88,242.21 L162.46,242.15 L163.03,242.10 L163.60,242.04 L164.17,241.99 L164.75,241.93 L165.32,241.88 L165.89,241.82 L166.46,241.76 L167.04,241.71 L167.61,241.65 L168.18,241.60 L168.75,241.54 L169.32,241.48 L169.90,241.43 L170.47,241.37 L171.04,241.31 L171.61,241.26 L172.18,241.20 L172.76,241.14 L173.33,241.09 L173.90,241.03 L174.47,240.97 L175.04,240.92 L175.61,240.86 L176.19,240.80 L176.76,240.74 L177.33,240.69 L177.90,240.63 L178.47,240.57 L179.04,240.51 L179.61,240.46 L180.19,240.40 L180.76,240.34 L181.33,240.28 L181.90,240.22 L182.47,240.16 L183.04,240.10 L183.61,240.04 L184.18,239.98 L184.75,239.92 L185.33,239.86 L185.90,239.80 L186.47,239.74 L187.04,239.68 L187.61,239.62 L188.18,239.56 L188.75,239.50 L189.32,239.44 L189.89,239.38 L190.46,239.32 L191.03,239.26 L191.60,239.19 L192.17,239.13 L192.74,239.07 L193.31,239.01 L193.88,238.94 L194.45,238.88 L195.02,238.82 L195.59,238.75 L196.16,238.69 L196.73,238.63 L197.30,238.56 L197.87,238.50 L198.44,238.43 L199.01,238.37 L199.58,238.30 L200.15,238.24 L200.72,238.17 L201.29,238.10 L201.86,238.04 L202.43,237.97 L203.00,237.90 L203.57,237.84 L204.14,237.77 L204.71,237.70 L205.28,237.63 L205.85,237.56 L206.42,237.49 L206.99,237.43 L207.56,237.36 L208.12,237.29 L208.69,237.22 L209.26,237.15 L209.83,237.07 L210.40,237.00 L210.97,236.93 L211.54,236.86 L212.11,236.79 L212.67,236.72 L213.24,236.64 L213.81,236.57 L214.38,236.50 L214.95,236.42 L215.52,236.35 L216.08,236.28 L216.65,236.20 L217.22,236.13 L217.79,236.05 L218.36,235.98 L218.92,235.90 L219.49,235.82 L220.06,235.75 L220.62,235.67 L221.19,235.59 L221.76,235.51 L222.33,235.44 L222.89,235.36 L223.46,235.28 L224.03,235.20 L224.59,235.12 L225.16,235.04 L225.72,234.96 L226.29,234.88 L226.86,234.80 L227.42,234.72 L227.99,234.64 L228.55,234.55 L229.12,234.47 L229.68,234.39 L230.25,234.31 L230.81,234.22 L231.38,234.14 L231.94,234.05 L232.51,233.97 L233.07,233.88 L233.64,233.80 L234.20,233.71 L234.76,233.63 L235.33,233.54 L235.89,233.45 L236.45,233.37 L237.02,233.28 L237.58,233.19 L238.14,233.10 L238.71,233.01 L239.27,232.92 L239.83,232.83 L240.39,232.74 L240.95,232.65 L241.52,232.56 L242.08,232.47 L242.64,232.38 L243.20,232.29 L243.76,232.19 L244.32,232.10 L244.88,232.01 L245.44,231.91 L246.00,231.82 L246.56,231.72 L247.12,231.63 L247.68,231.53 L248.24,231.44 L248.80,231.34 L249.36,231.24 L249.92,231.14 L250.47,231.05 L251.03,230.95 L251.59,230.85 L252.15,230.75 L252.71,230.65 L253.26,230.55 L253.82,230.45 L254.38,230.35 L254.93,230.25 L255.49,230.14 L256.04,230.04 L256.60,229.94 L257.16,229.84 L257.71,229.73 L258.27,229.63 L258.82,229.52 L259.37,229.42 L259.93,229.31 L260.48,229.21 L261.04,229.10 L261.59,228.99 L262.14,228.88 L262.69,228.78 L263.25,228.67 L263.80,228.56 L264.35,228.45 L264.90,228.34 L265.45,228.23 L266.00,228.12 L266.56,228.00 L267.11,227.89 L267.66,227.78 L268.21,227.67 L268.76,227.55 L269.30,227.44 L269.85,227.33 L270.40,227.21 L270.95,227.09 L271.50,226.98 L272.05,226.86 L272.59,226.75 L273.14,226.63 L273.69,226.51 L274.23,226.39 L274.78,226.27 L275.33,226.15 L275.87,226.04 L276.42,225.92 L276.96,225.79 L277.51,225.67 L278.05,225.55 L278.60,225.43 L279.14,225.31 L279.69,225.19 L280.23,225.06 L280.77,224.94 L281.32,224.81 L281.86,224.69 L282.40,224.57 L282.95,224.44 L283.49,224.31 L284.03,224.19 L284.57,224.06 L285.11,223.93 L285.65,223.81 L286.19,223.68 L286.74,223.55 L287.28,223.42 L287.82,223.29 L288.36,223.16 L288.90,223.03 L289.43,222.90 L289.97,222.77 L290.51,222.64 L291.05,222.51 L291.59,222.38 L292.13,222.25 L292.67,222.11 L293.20,221.98 L293.74,221.85 L294.28,221.71 L294.82,221.58 L295.35,221.44 L295.89,221.31 L296.43,221.17 L296.96,221.04 L297.50,220.90 L298.03,220.77 L298.57,220.63 L299.10,220.49 L299.64,220.36 L300.17,220.22 L300.71,220.08 L301.24,219.94 L301.78,219.80 L302.31,219.66 L302.84,219.52 L303.38,219.38 L303.91,219.24 L304.44,219.10 L304.98,218.96 L305.51,218.82 L306.04,218.68 L306.57,218.54 L307.11,218.39 L307.64,218.25 L308.17,218.11 L308.70,217.97 L309.23,217.82 L309.76,217.68 L310.29,217.53 L310.82,217.39 L311.35,217.24 L311.88,217.10 L312.41,216.95 L312.94,216.81 L313.47,216.66 L314.00,216.52 L314.53,216.37 L315.06,216.22 L315.59,216.08 L316.12,215.93 L316.65,215.78 L317.18,215.63 L317.70,215.48 L318.23,215.34 L318.76,215.19 L319.29,215.04 L319.81,214.89 L320.34,214.74 L320.87,214.59 L321.40,214.44 L321.92,214.29 L322.45,214.14 L322.97,213.99 L323.50,213.83 L324.03,213.68 L324.55,213.53 L325.08,213.38 L325.60,213.23 L326.13,213.07 L326.65,212.92 L327.18,212.77 L327.70,212.62 L328.23,212.46 L328.75,212.31 L329.28,212.15 L329.80,212.00 L330.33,211.85 L330.85,211.69 L331.37,211.54 L331.90,211.38 L332.42,211.23 L332.94,211.07 L333.47,210.91 L333.99,210.76 L334.51,210.60 L335.04,210.45 L335.56,210.29 L336.08,210.13 L336.60,209.97 L337.13,209.82 L337.65,209.66 L338.17,209.50 L338.69,209.34 L339.21,209.19 L339.73,209.03 L340.26,208.87 L340.78,208.71 L341.30,208.55 L341.82,208.39 L342.34,208.23 L342.86,208.08 L343.38,207.92 L343.90,207.76 L344.42,207.60 L344.94,207.44 L345.46,207.28 L345.98,207.12 L346.50,206.96 L347.02,206.79 L347.54,206.63 L348.06,206.47 L348.58,206.31 L349.10,206.15 L349.62,205.99 L350.14,205.83 L350.66,205.67 L351.17,205.50 L351.69,205.34 L352.21,205.18 L352.73,205.02 L353.25,204.86 L353.77,204.69 L354.29,204.53 L354.80,204.37 L355.32,204.20 L355.84,204.04 L356.36,203.88 L356.87,203.72 L357.39,203.55 L357.91,203.39 L358.43,203.23 L358.94,203.06 L359.46,202.90 L359.98,202.73 L360.50,202.57 L361.01,202.41 L361.53,202.24 L362.05,202.08 L362.56,201.91 L363.08,201.75 L363.60,201.58 L364.11,201.42 L364.63,201.25 L365.15,201.09 L365.66,200.93 L366.18,200.76 L366.69,200.60 L367.21,200.43 L367.73,200.26 L368.24,200.10 L368.76,199.93 L369.27,199.77 L369.79,199.60 L370.30,199.44 L370.82,199.27 L371.33,199.11 L371.85,198.94 L372.37,198.77 L372.88,198.61 L373.40,198.44 L373.91,198.27 L374.42,198.11 L374.94,197.94 L375.45,197.77 L375.97,197.61 L376.48,197.44 L377.00,197.27 L377.51,197.11 L378.03,196.94 L378.54,196.77 L379.05,196.60 L379.57,196.44 L380.08,196.27 L380.59,196.10 L381.11,195.93 L381.62,195.77 L382.14,195.60 L382.65,195.43 L383.16,195.26 L383.67,195.09 L384.19,194.93 L384.70,194.76 L385.21,194.59 L385.73,194.42 L386.24,194.25 L386.75,194.08 L387.26,193.91 L387.78,193.74 L388.29,193.57 L388.80,193.41 L389.31,193.24 L389.82,193.07 L390.34,192.90 L390.85,192.73 L391.36,192.56 L391.87,192.39 L392.38,192.22 L392.89,192.05 L393.40,191.88 L393.91,191.71 L394.43,191.54 L394.94,191.36 L395.45,191.19 L395.96,191.02 L396.47,190.85 L396.98,190.68 L397.49,190.51 L398.00,190.34 L398.51,190.17 L399.02,190.00 L399.53,189.82 L400.04,189.65 L400.55,189.48 L401.06,189.31 L401.57,189.14 L402.08,188.96 L402.59,188.79 L403.10,188.62 L403.60,188.45 L404.11,188.27 L404.62,188.10 L405.13,187.93 L405.64,187.76 L406.15,187.58 L406.66,187.41 L407.16,187.24 L407.67,187.06 L408.18,186.89 L408.69,186.71 L409.20,186.54 L409.70,186.37 L410.21,186.19 L410.72,186.02 L411.23,185.84 L411.73,185.67 L412.24,185.49 L412.75,185.32 L413.25,185.14 L413.76,184.97 L414.27,184.79 L414.77,184.62 L415.28,184.44 L415.79,184.27 L416.29,184.09 L416.80,183.92 L417.30,183.74 L417.81,183.57 L418.31,183.39 L418.82,183.21 L419.32,183.04 L419.83,182.86 L420.34,182.68 L420.84,182.51 L421.34,182.33 L421.85,182.15 L422.35,181.98 L422.86,181.80 L423.36,181.62 L423.87,181.44 L424.37,181.27 L424.87,181.09 L425.38,180.91 L425.88,180.73 L426.39,180.55 L426.89,180.38 L427.39,180.20 L427.90,180.02 L428.40,179.84 L428.90,179.66 L429.40,179.48 L429.91,179.30 L430.41,179.12 L430.91,178.94 L431.41,178.76 L431.92,178.58 L432.42,178.40 L432.92,178.22 L433.42,178.04 L433.92,177.86 L434.42,177.68 L434.93,177.50 L435.43,177.32 L435.93,177.14 L436.43,176.96 L436.93,176.78 L437.43,176.60 L437.93,176.42 L438.43,176.24 L438.93,176.05 L439.43,175.87 L439.93,175.69 L440.43,175.51 L440.93,175.33 L441.43,175.14 L441.93,174.96 L442.43,174.78 L442.93,174.60 L443.42,174.41 L443.92,174.23 L444.42,174.05 L444.92,173.86 L445.42,173.68 L445.92,173.50 L446.41,173.31 L446.91,173.13 L447.41,172.94 L447.91,172.76 L448.41,172.58 L448.90,172.39 L449.40,172.21 L449.90,172.02 L450.39,171.84 L450.89,171.65 L451.39,171.47 L451.88,171.28 L452.38,171.10 L452.87,170.91 L453.37,170.72 L453.87,170.54 L454.36,170.35 L454.86,170.16 L455.35,169.98 L455.85,169.79 L456.34,169.60 L456.84,169.42 L457.33,169.23 L457.83,169.04 L458.32,168.86 L458.82,168.67 L459.31,168.48 L459.80,168.29 L460.30,168.10 L460.79,167.92 L461.28,167.73 L461.78,167.54 L462.27,167.35 L462.76,167.16 L463.26,166.97 L463.75,166.78 L464.24,166.59 L464.73,166.41 L465.23,166.22 L465.72,166.03 L466.21,165.84 L466.70,165.65 L467.19,165.46 L467.68,165.26 L468.17,165.07 L468.67,164.88 L469.16,164.69 L469.65,164.50 L470.14,164.31 L470.63,164.12 L471.12,163.93 L471.61,163.73 L472.10,163.54 L472.59,163.35 L473.08,163.16 L473.57,162.97 L474.06,162.77 L474.54,162.58 L475.03,162.39 L475.52,162.19 L476.01,162.00 L476.50,161.81 L476.99,161.61 L477.47,161.42 L477.96,161.23 L478.45,161.03 L478.94,160.84 L479.42,160.64 L479.91,160.45 L480.40,160.25 L480.89,160.06 L481.37,159.86 L481.86,159.67 L482.34,159.47 L482.83,159.28 L483.32,159.08 L483.80,158.89 L484.29,158.69 L484.77,158.49 L485.26,158.30 L485.74,158.10 L486.23,157.90 L486.71,157.71 L487.20,157.51 L487.68,157.31 L488.17,157.11 L488.65,156.92 L489.13,156.72 L489.62,156.52 L490.10,156.32 L490.58,156.12 L491.07,155.92 L491.55,155.73 L492.03,155.53 L492.51,155.33 L493.00,155.13 L493.48,154.93 L493.96,154.73 L494.44,154.53 L494.92,154.33 L495.41,154.13 L495.89,153.93 L496.37,153.73 L496.85,153.53 L497.33,153.32 L497.81,153.12 L498.29,152.92 L498.77,152.72 L499.25,152.52 L499.73,152.32 L500.21,152.11 L500.69,151.91 L501.17,151.71 L501.65,151.51 L502.12,151.30 L502.60,151.10 L503.08,150.90 L503.56,150.69 L504.04,150.49 L504.51,150.29 L504.99,150.08 L505.47,149.88 L505.95,149.67 L506.42,149.47 L506.90,149.26 L507.38,149.06 L507.85,148.85 L508.33,148.65 L508.81,148.44 L509.28,148.24 L509.76,148.03 L510.23,147.83 L510.71,147.62 L511.18,147.41 L511.66,147.21 L512.13,147.00 L512.61,146.79 L513.08,146.58 L513.55,146.38 L514.03,146.17 L514.50,145.96 L514.97,145.75 L515.45,145.55 L515.92,145.34 L516.39,145.13 L516.87,144.92 L517.34,144.71 L517.81,144.50 L518.28,144.29 L518.75,144.08 L519.23,143.87 L519.70,143.66 L520.17,143.45 L520.64,143.24 L521.11,143.03 L521.58,142.82 L522.05,142.61 L522.52,142.40 L522.99,142.19 L523.46,141.97 L523.93,141.76 L524.40,141.55 L524.87,141.34 L525.34,141.12 L525.81,140.91 L526.27,140.70 L526.74,140.49 L527.21,140.27 L527.68,140.06 L528.15,139.84 L528.61,139.63 L529.08,139.42 L529.55,139.20 L530.01,138.99 L530.48,138.77 L530.95,138.56 L531.41,138.34 L531.88,138.13 L532.34,137.91 L532.81,137.70 L533.27,137.48 L533.74,137.26 L534.20,137.05 L534.67,136.83 L535.13,136.61 L535.60,136.40 L536.06,136.18 L536.52,135.96 L536.99,135.74 L537.45,135.53 L537.91,135.31 L538.38,135.09 L538.84,134.87 L539.30,134.65 L539.76,134.43 L540.23,134.21 L540.69,133.99 L541.15,133.77 L541.61,133.55 L542.07,133.33 L542.53,133.11 L542.99,132.89 L543.45,132.67 L543.91,132.45 L544.37,132.23 L544.83,132.01 L545.29,131.79 L545.75,131.56 L546.21,131.34 L546.67,131.12 L547.13,130.90 L547.58,130.67 L548.04,130.45 L548.50,130.23 L548.96,130.00" stroke="#ff9a33" stroke-width="1.4"/>
<path d="M80.64,270.29 L80.78,269.89 L80.93,269.50 L81.09,269.11 L81.26,268.73 L81.44,268.36 L81.63,267.99 L81.83,267.63 L82.04,267.27 L82.25,266.92 L82.48,266.57 L82.72,266.23 L82.96,265.89 L83.21,265.56 L83.47,265.24 L83.74,264.92 L84.02,264.60 L84.30,264.29 L84.59,263.99 L84.89,263.68 L85.20,263.39 L85.52,263.10 L85.84,262.81 L86.17,262.53 L86.51,262.25 L86.85,261.98 L87.21,261.71 L87.56,261.45 L87.93,261.19 L88.30,260.93 L88.68,260.68 L89.06,260.43 L89.45,260.19 L89.85,259.95 L90.25,259.71 L90.66,259.48 L91.07,259.25 L91.49,259.03 L91.92,258.81 L92.35,258.59 L92.36,258.59 M102.82,254.65 L102.94,254.61 L103.46,254.46 L103.99,254.32 L104.51,254.17 L105.04,254.03 L105.58,253.88 L106.11,253.74 L106.65,253.61 L107.19,253.47 L107.74,253.34 L108.28,253.20 L108.83,253.07 L109.37,252.94 L109.92,252.81 L110.48,252.69 L111.03,252.56 L111.58,252.44 L112.14,252.32 L112.69,252.19 L113.25,252.07 L113.81,251.95 L114.37,251.84 L114.93,251.72 L115.49,251.60 L116.05,251.49 L116.61,251.37 L117.17,251.26 L117.73,251.15 L118.30,251.03 L118.86,250.92 L119.38,250.82 M130.39,248.77 L130.68,248.72 L131.25,248.62 L131.81,248.52 L132.38,248.42 L132.94,248.33 L133.50,248.23 L134.07,248.13 L134.63,248.04 L135.20,247.94 L135.76,247.85 L136.33,247.75 L136.89,247.66 L137.46,247.57 L138.02,247.47 L138.59,247.38 L139.15,247.29 L139.72,247.20 L140.29,247.11 L140.85,247.02 L141.42,246.93 L141.98,246.84 L142.55,246.75 L143.11,246.66 L143.68,246.57 L144.25,246.48 L144.81,246.39 L145.38,246.31 L145.94,246.22 L146.51,246.13 L147.08,246.05 L147.17,246.03 M158.25,244.42 L158.42,244.39 L158.99,244.31 L159.55,244.23 L160.12,244.16 L160.69,244.08 L161.26,244.00 L161.82,243.92 L162.39,243.84 L162.96,243.76 L163.53,243.69 L164.10,243.61 L164.66,243.53 L165.23,243.45 L165.80,243.38 L166.37,243.30 L166.94,243.22 L167.50,243.15 L168.07,243.07 L168.64,242.99 L169.21,242.92 L169.78,242.84 L170.34,242.77 L170.91,242.69 L171.48,242.62 L172.05,242.54 L172.62,242.47 L173.19,242.39 L173.75,242.32 L174.32,242.24 L174.89,242.17 L175.10,242.14 M186.21,240.70 L186.26,240.69 L186.83,240.61 L187.40,240.54 L187.97,240.47 L188.54,240.39 L189.11,240.32 L189.67,240.24 L190.24,240.17 L190.81,240.10 L191.38,240.02 L191.95,239.95 L192.52,239.87 L193.08,239.80 L193.65,239.73 L194.22,239.65 L194.79,239.58 L195.36,239.50 L195.93,239.43 L196.50,239.35 L197.06,239.28 L197.63,239.20 L198.20,239.13 L198.77,239.05 L199.34,238.98 L199.91,238.90 L200.47,238.83 L201.04,238.75 L201.61,238.67 L202.18,238.60 L202.75,238.52 L203.06,238.48 M214.16,236.95 L214.67,236.88 L215.23,236.80 L215.80,236.72 L216.37,236.64 L216.93,236.56 L217.50,236.47 L218.07,236.39 L218.63,236.31 L219.20,236.23 L219.77,236.15 L220.33,236.07 L220.90,235.98 L221.47,235.90 L222.03,235.82 L222.60,235.73 L223.16,235.65 L223.73,235.57 L224.30,235.48 L224.86,235.40 L225.43,235.31 L225.99,235.23 L226.56,235.15 L227.12,235.06 L227.69,234.97 L228.25,234.89 L228.82,234.80 L229.38,234.72 L229.95,234.63 L230.51,234.54 L230.97,234.47 M242.03,232.71 L242.34,232.66 L242.91,232.57 L243.47,232.48 L244.03,232.38 L244.59,232.29 L245.15,232.20 L245.71,232.10 L246.27,232.01 L246.83,231.91 L247.39,231.82 L247.96,231.72 L248.52,231.62 L249.08,231.53 L249.64,231.43 L250.20,231.33 L250.76,231.24 L251.31,231.14 L251.87,231.04 L252.43,230.94 L252.99,230.85 L253.55,230.75 L254.11,230.65 L254.67,230.55 L255.23,230.45 L255.78,230.35 L256.34,230.25 L256.90,230.15 L257.46,230.04 L258.02,229.94 L258.57,229.84 L258.78,229.80 M269.78,227.70 L270.23,227.61 L270.78,227.50 L271.33,227.39 L271.89,227.28 L272.44,227.17 L272.99,227.05 L273.54,226.94 L274.09,226.83 L274.64,226.72 L275.20,226.60 L275.75,226.49 L276.30,226.37 L276.85,226.26 L277.40,226.14 L277.95,226.03 L278.50,225.91 L279.05,225.80 L279.60,225.68 L280.15,225.57 L280.70,225.45 L281.24,225.33 L281.79,225.21 L282.34,225.10 L282.89,224.98 L283.44,224.86 L283.99,224.74 L284.53,224.62 L285.08,224.50 L285.63,224.38 L286.18,224.26 L286.42,224.21 M297.34,221.72 L297.63,221.66 L298.17,221.53 L298.71,221.40 L299.26,221.27 L299.80,221.14 L300.34,221.02 L300.88,220.89 L301.42,220.76 L301.97,220.63 L302.51,220.50 L303.05,220.37 L303.59,220.24 L304.13,220.11 L304.67,219.98 L305.22,219.84 L305.76,219.71 L306.30,219.58 L306.84,219.45 L307.38,219.32 L307.92,219.18 L308.46,219.05 L309.00,218.92 L309.54,218.78 L310.08,218.65 L310.62,218.52 L311.16,218.38 L311.69,218.25 L312.23,218.11 L312.77,217.98 L313.31,217.84 L313.85,217.71 L313.86,217.70 M324.71,214.91 L325.12,214.80 L325.66,214.66 L326.19,214.52 L326.73,214.38 L327.26,214.23 L327.80,214.09 L328.33,213.95 L328.86,213.81 L329.40,213.67 L329.93,213.52 L330.47,213.38 L331.00,213.24 L331.53,213.09 L332.07,212.95 L332.60,212.81 L333.13,212.66 L333.67,212.52 L334.20,212.37 L334.73,212.23 L335.26,212.08 L335.80,211.94 L336.33,211.79 L336.86,211.65 L337.39,211.50 L337.93,211.36 L338.46,211.21 L338.99,211.06 L339.52,210.92 L340.05,210.77 L340.58,210.62 L341.11,210.48 L341.12,210.48 M351.90,207.44 L352.24,207.35 L352.77,207.20 L353.30,207.04 L353.83,206.89 L354.36,206.74 L354.88,206.59 L355.41,206.44 L355.94,206.29 L356.47,206.14 L357.00,205.98 L357.52,205.83 L358.05,205.68 L358.58,205.53 L359.11,205.37 L359.63,205.22 L360.16,205.07 L360.69,204.92 L361.21,204.76 L361.74,204.61 L362.27,204.46 L362.79,204.30 L363.32,204.15 L363.85,203.99 L364.37,203.84 L364.90,203.69 L365.43,203.53 L365.95,203.38 L366.48,203.22 L367.00,203.07 L367.53,202.91 L368.05,202.76 L368.23,202.71 M378.96,199.51 L379.07,199.48 L379.59,199.32 L380.11,199.16 L380.64,199.01 L381.16,198.85 L381.68,198.69 L382.21,198.53 L382.73,198.37 L383.25,198.22 L383.77,198.06 L384.30,197.90 L384.82,197.74 L385.34,197.58 L385.86,197.42 L386.38,197.26 L386.91,197.10 L387.43,196.94 L387.95,196.78 L388.47,196.62 L388.99,196.46 L389.51,196.30 L390.03,196.14 L390.56,195.98 L391.08,195.82 L391.60,195.66 L392.12,195.50 L392.64,195.34 L393.16,195.18 L393.68,195.02 L394.20,194.86 L394.72,194.70 L395.22,194.54 M405.90,191.19 L406.14,191.11 L406.65,190.95 L407.17,190.78 L407.69,190.62 L408.21,190.45 L408.72,190.29 L409.24,190.13 L409.76,189.96 L410.27,189.79 L410.79,189.63 L411.31,189.46 L411.82,189.30 L412.34,189.13 L412.86,188.97 L413.37,188.80 L413.89,188.63 L414.40,188.47 L414.92,188.30 L415.44,188.13 L415.95,187.97 L416.47,187.80 L416.98,187.63 L417.50,187.47 L418.01,187.30 L418.53,187.13 L419.04,186.96 L419.56,186.80 L420.07,186.63 L420.59,186.46 L421.10,186.29 L421.62,186.12 L422.08,185.97 M432.72,182.45 L432.90,182.39 L433.41,182.22 L433.92,182.05 L434.44,181.88 L434.95,181.70 L435.46,181.53 L435.97,181.36 L436.48,181.19 L436.99,181.02 L437.50,180.84 L438.01,180.67 L438.52,180.50 L439.03,180.33 L439.54,180.15 L440.05,179.98 L440.56,179.81 L441.07,179.63 L441.58,179.46 L442.09,179.29 L442.60,179.11 L443.11,178.94 L443.62,178.76 L444.13,178.59 L444.64,178.42 L445.15,178.24 L445.65,178.07 L446.16,177.89 L446.67,177.72 L447.18,177.54 L447.69,177.37 L448.20,177.19 L448.70,177.02 L448.81,176.98 M459.38,173.29 L459.85,173.12 L460.35,172.94 L460.86,172.77 L461.36,172.59 L461.87,172.41 L462.37,172.23 L462.87,172.05 L463.38,171.87 L463.88,171.69 L464.39,171.51 L464.89,171.33 L465.39,171.15 L465.90,170.97 L466.40,170.79 L466.90,170.61 L467.41,170.43 L467.91,170.25 L468.41,170.07 L468.92,169.89 L469.42,169.71 L469.92,169.53 L470.42,169.34 L470.93,169.16 L471.43,168.98 L471.93,168.80 L472.43,168.62 L472.93,168.44 L473.44,168.25 L473.94,168.07 L474.44,167.89 L474.94,167.71 L475.39,167.54 M485.89,163.67 L485.93,163.65 L486.43,163.47 L486.93,163.28 L487.43,163.10 L487.93,162.91 L488.42,162.72 L488.92,162.54 L489.42,162.35 L489.91,162.16 L490.41,161.98 L490.91,161.79 L491.41,161.60 L491.90,161.41 L492.40,161.23 L492.90,161.04 L493.39,160.85 L493.89,160.66 L494.38,160.47 L494.88,160.29 L495.37,160.10 L495.87,159.91 L496.37,159.72 L496.86,159.53 L497.36,159.34 L497.85,159.15 L498.35,158.96 L498.84,158.77 L499.34,158.59 L499.83,158.40 L500.32,158.21 L500.82,158.02 L501.31,157.83 L501.79,157.64 M512.22,153.57 L512.64,153.41 L513.13,153.22 L513.62,153.03 L514.11,152.83 L514.60,152.64 L515.09,152.44 L515.58,152.25 L516.07,152.05 L516.56,151.86 L517.05,151.67 L517.54,151.47 L518.02,151.28 L518.51,151.08 L519.00,150.88 L519.49,150.69 L519.98,150.49 L520.47,150.30 L520.96,150.10 L521.45,149.91 L521.93,149.71 L522.42,149.51 L522.91,149.32 L523.40,149.12 L523.88,148.92 L524.37,148.73 L524.86,148.53 L525.35,148.33 L525.83,148.13 L526.32,147.94 L526.81,147.74 L527.29,147.54 L527.78,147.34 L528.00,147.25 M538.36,142.98 L538.44,142.95 L538.92,142.75 L539.40,142.55 L539.89,142.34 L540.37,142.14 L540.85,141.94 L541.33,141.74 L541.81,141.54 L542.30,141.33 L542.78,141.13 L543.26,140.93 L543.74,140.73 L544.22,140.52 L544.70,140.32 L545.18,140.12 L545.66,139.91 L546.14,139.71 L546.62,139.51 L547.10,139.30 L547.58,139.10 L548.06,138.89 L548.54,138.69 L549.02,138.48" stroke="#1a1a1a" stroke-width="1.25"/>
</g></g></g>
<g filter="url(#soft)">
<path d="M49.400000000000006,12.05H340.7M49.400000000000006,324.5H340.7" fill="none" stroke="#808080" stroke-width="1.1"/>
<path d="M49.7,12.05V324.5M340.4,12.05V324.5" fill="none" stroke="#777" stroke-width="0.62"/>
<path d="M49.70,324.5v-5.8M49.70,12.05v5.8M59.39,324.5v-3.4M59.39,12.05v3.4M69.08,324.5v-3.4M69.08,12.05v3.4M78.77,324.5v-3.4M78.77,12.05v3.4M88.46,324.5v-3.4M88.46,12.05v3.4M98.15,324.5v-5.8M98.15,12.05v5.8M107.84,324.5v-3.4M107.84,12.05v3.4M117.53,324.5v-3.4M117.53,12.05v3.4M127.22,324.5v-3.4M127.22,12.05v3.4M136.91,324.5v-3.4M136.91,12.05v3.4M146.60,324.5v-5.8M146.60,12.05v5.8M156.29,324.5v-3.4M156.29,12.05v3.4M165.98,324.5v-3.4M165.98,12.05v3.4M175.67,324.5v-3.4M175.67,12.05v3.4M185.36,324.5v-3.4M185.36,12.05v3.4M195.05,324.5v-5.8M195.05,12.05v5.8M204.74,324.5v-3.4M204.74,12.05v3.4M214.43,324.5v-3.4M214.43,12.05v3.4M224.12,324.5v-3.4M224.12,12.05v3.4M233.81,324.5v-3.4M233.81,12.05v3.4M243.50,324.5v-5.8M243.50,12.05v5.8M253.19,324.5v-3.4M253.19,12.05v3.4M262.88,324.5v-3.4M262.88,12.05v3.4M272.57,324.5v-3.4M272.57,12.05v3.4M282.26,324.5v-3.4M282.26,12.05v3.4M291.95,324.5v-5.8M291.95,12.05v5.8M301.64,324.5v-3.4M301.64,12.05v3.4M311.33,324.5v-3.4M311.33,12.05v3.4M321.02,324.5v-3.4M321.02,12.05v3.4M330.71,324.5v-3.4M330.71,12.05v3.4M340.40,324.5v-5.8M340.40,12.05v5.8" stroke="#444" stroke-width="0.45" fill="none"/>
<path d="M49.7,324.50h3.6M340.4,324.50h-3.6M49.7,312.00h2.3M340.4,312.00h-2.3M49.7,299.50h2.3M340.4,299.50h-2.3M49.7,287.01h2.3M340.4,287.01h-2.3M49.7,274.51h2.3M340.4,274.51h-2.3M49.7,262.01h3.6M340.4,262.01h-3.6M49.7,249.51h2.3M340.4,249.51h-2.3M49.7,237.01h2.3M340.4,237.01h-2.3M49.7,224.52h2.3M340.4,224.52h-2.3M49.7,212.02h2.3M340.4,212.02h-2.3M49.7,199.52h3.6M340.4,199.52h-3.6M49.7,187.02h2.3M340.4,187.02h-2.3M49.7,174.52h2.3M340.4,174.52h-2.3M49.7,162.03h2.3M340.4,162.03h-2.3M49.7,149.53h2.3M340.4,149.53h-2.3M49.7,137.03h3.6M340.4,137.03h-3.6M49.7,124.53h2.3M340.4,124.53h-2.3M49.7,112.03h2.3M340.4,112.03h-2.3M49.7,99.54h2.3M340.4,99.54h-2.3M49.7,87.04h2.3M340.4,87.04h-2.3M49.7,74.54h3.6M340.4,74.54h-3.6M49.7,62.04h2.3M340.4,62.04h-2.3M49.7,49.54h2.3M340.4,49.54h-2.3M49.7,37.05h2.3M340.4,37.05h-2.3M49.7,24.55h2.3M340.4,24.55h-2.3M49.7,12.05h3.6M340.4,12.05h-3.6" stroke="#444" stroke-width="0.6" fill="none"/>
<g font-family="Liberation Serif, serif" font-size="19.5" fill="#000" stroke="#000" stroke-width="0.35">
<text transform="translate(49.70,347.8) scale(0.62,1)" text-anchor="middle">−1.0</text>
<text transform="translate(98.15,347.8) scale(0.62,1)" text-anchor="middle">−0.5</text>
<text transform="translate(146.60,347.8) scale(0.62,1)" text-anchor="middle">0.0</text>
<text transform="translate(195.05,347.8) scale(0.62,1)" text-anchor="middle">0.5</text>
<text transform="translate(243.50,347.8) scale(0.62,1)" text-anchor="middle">1.0</text>
<text transform="translate(291.95,347.8) scale(0.62,1)" text-anchor="middle">1.5</text>
<text transform="translate(340.40,347.8) scale(0.62,1)" text-anchor="middle">2.0</text>
<text transform="translate(46.6,331.10) scale(0.62,1)" text-anchor="end">0.0</text>
<text transform="translate(46.6,268.61) scale(0.62,1)" text-anchor="end">0.5</text>
<text transform="translate(46.6,206.12) scale(0.62,1)" text-anchor="end">1.0</text>
<text transform="translate(46.6,143.63) scale(0.62,1)" text-anchor="end">1.5</text>
<text transform="translate(46.6,81.14) scale(0.62,1)" text-anchor="end">2.0</text>
<text transform="translate(46.6,18.65) scale(0.62,1)" text-anchor="end">2.5</text>
</g>
<text font-family="Liberation Serif, serif" font-size="27.5" fill="#000" stroke="#000" stroke-width="0.15" transform="translate(194.9,387.7) scale(0.6,1)" text-anchor="middle">z</text>
<g transform="translate(20.5,0) rotate(-90)" font-family="Liberation Serif, serif" font-weight="bold" fill="#000" text-anchor="middle">
<text transform="translate(-262.70,0.00) scale(1,0.625)" font-size="25.0" font-style="italic">ρ</text>
<text transform="translate(-252.20,2.80) scale(1,0.69)" font-size="17.5">I</text>
<text transform="translate(-242.50,2.80) scale(1,0.69)" font-size="17.5">H</text>
<text transform="translate(-227.90,2.80) scale(1,0.69)" font-size="17.5">D</text>
<text transform="translate(-214.40,2.80) scale(1,0.69)" font-size="17.5">E</text>
<text transform="translate(-203.70,0.00) scale(1,0.625)" font-size="25.0">(</text>
<text transform="translate(-193.20,0.00) scale(1,0.625)" font-size="25.0">z</text>
<text transform="translate(-184.00,0.00) scale(1,0.625)" font-size="25.0">)</text>
<text transform="translate(-174.20,1.60) scale(1,0.625)" font-size="32.0">/</text>
<text transform="translate(-162.70,0.00) scale(1,0.625)" font-size="25.0">3</text>
<text transform="translate(-145.10,0.00) scale(1,0.625)" font-size="25.0" font-style="italic">H</text>
<text transform="translate(-130.70,2.80) scale(1,0.69)" font-size="17.5">0</text>
<text transform="translate(-120.90,-7.40) scale(1,0.69)" font-size="17.5">2</text>
<text transform="translate(-102.20,0.00) scale(1,0.625)" font-size="25.0" font-style="italic">M</text>
<text transform="translate(-87.00,2.80) scale(1,0.69)" font-size="17.5">p</text>
<text transform="translate(-79.30,2.80) scale(1,0.69)" font-size="17.5">l</text>
<text transform="translate(-72.10,-7.40) scale(1,0.69)" font-size="17.5">2</text>
</g>
<g fill="none">
<path d="M221.1,48.5H246.8" stroke="#19ff19" stroke-width="1.15" stroke-dasharray="2.6 1.47"/>
<path d="M221.1,67.2H246.8" stroke="#3a3aff" stroke-width="1.25"/>
<path d="M221.1,85.6H246.8" stroke="#ff3030" stroke-width="1.15"/>
<path d="M221.1,104.2H246.8" stroke="#ff9a33" stroke-width="1.15"/>
<path d="M221.1,122.5H246.8" stroke="#1a1a1a" stroke-width="1.0" stroke-dasharray="5.9 4.4"/>
</g>
<g font-family="Liberation Serif, serif" font-size="14" fill="#000" stroke="#000" stroke-width="0.3">
<text transform="translate(260.6,53.30) scale(0.68,1)"><tspan font-style="italic">α</tspan>=−0.2</text>
<text transform="translate(260.6,72.00) scale(0.68,1)"><tspan font-style="italic">α</tspan>=−0.1</text>
<text transform="translate(260.6,90.40) scale(0.65,1)"><tspan font-style="italic">α</tspan>=0</text>
<text transform="translate(260.6,109.00) scale(0.65,1)"><tspan font-style="italic">α</tspan>=0.05</text>
<text transform="translate(260.6,127.30) scale(0.65,1)"><tspan font-style="italic">α</tspan>=0.1</text>
<text transform="translate(229.9,156.6) scale(0.63,1)" font-size="14.5">c=1</text>
</g>
</g>
</svg>
</body></html>
